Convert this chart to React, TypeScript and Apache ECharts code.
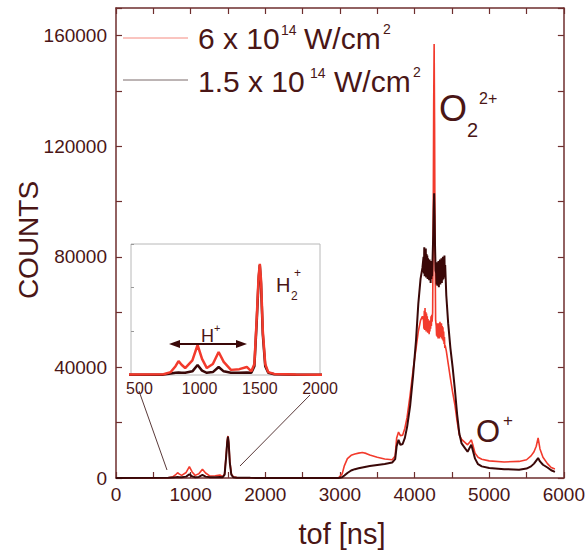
import React, { useEffect, useRef } from 'react';
import * as echarts from 'echarts';

// time of flight (ns)
const tof = [
  0, 700, 760, 800, 825, 850, 880, 940, 983, 1020, 1060, 1110, 1158, 1200, 1260, 1330, 1392, 1430, 1455, 1475,
  1490, 1500, 1510, 1525, 1545, 1570, 1620, 1800, 2000, 2500, 2980,
  3030, 3060, 3100, 3150, 3200, 3250, 3300, 3350, 3400, 3500, 3600, 3700, 3740, 3760, 3785, 3810, 3840, 3870,
  3900, 3940, 3980, 4020, 4050, 4080, 4105,
  4120, 4125, 4130, 4135, 4140, 4145, 4150, 4155, 4160, 4165, 4170, 4175, 4180, 4185, 4190, 4195, 4200, 4205,
  4210, 4215, 4220, 4225, 4230, 4235,
  4242, 4250, 4256, 4262, 4268, 4274, 4282,
  4290, 4295, 4300, 4305, 4310, 4315, 4320, 4325, 4330, 4335, 4340, 4345, 4350, 4355, 4360, 4365, 4370, 4375,
  4380, 4385, 4390, 4395, 4400, 4405, 4410,
  4425, 4450, 4480, 4510, 4540, 4570, 4600, 4630, 4670, 4710, 4740, 4760, 4780, 4810, 4850, 4900, 5000, 5200,
  5400, 5500, 5560, 5600, 5630, 5655, 5680, 5720, 5780, 5830, 5880,
];

// 6 x 10^14 W/cm^2
const redCounts = [
  0, 100, 400, 1200, 1900, 1400, 950, 2000, 4100, 2200, 950, 1500, 3150, 1800, 700, 800, 1100, 500, 1500, 8000,
  13500, 15200, 13000, 6000, 1500, 400, 150, 80, 50, 0, 0,
  1500, 4500, 7000, 8200, 8700, 9000, 9200, 8900, 8300, 7500, 6900, 6600, 8000, 14500, 16600, 15300, 15500, 18000,
  22000, 30000, 39000, 47000, 53000, 57000, 58500,
  57000, 54000, 60500, 53500, 61500, 54500, 60000, 53000, 59500, 54000, 58500, 52500, 57500, 53500, 57000, 52000,
  56500, 53000, 57000, 54000, 58500, 55000, 59000, 56500,
  60000, 95000, 135000, 157000, 128000, 85000, 57000,
  55000, 51500, 56000, 51000, 55500, 50500, 56000, 51000, 55000, 50500, 56500, 51500, 55500, 51000, 56000, 50500,
  55000, 50000, 54500, 49500, 53000, 48500, 51000, 47000, 48000,
  46000, 41500, 36000, 31000, 26500, 20500, 15500, 14000, 13000, 12000, 13000, 13800, 12000, 9000, 7500, 6800,
  6200, 5800, 6000, 6600, 8000, 9500, 11500, 14500, 10500, 7500, 5200, 3800, 3300,
];

// 1.5 x 10^14 W/cm^2
const blackCounts = [
  0, 50, 200, 300, 350, 300, 300, 500, 1370, 600, 300, 400, 1100, 500, 300, 300, 350, 300, 1200, 7500,
  13000, 15000, 12500, 5500, 1200, 300, 100, 50, 30, 0, 0,
  300, 900, 1800, 2700, 3200, 3500, 3800, 4100, 4300, 4700, 5100, 5600, 6800, 11500, 13800, 12000, 12300, 14500,
  18500, 26000, 37000, 50000, 63000, 72000, 76000,
  80000, 74000, 83500, 73000, 82000, 75000, 83000, 72500, 81000, 74000, 80500, 72000, 79500, 73500, 78000, 71500,
  79000, 72000, 77000, 70500, 78500, 72000, 76500, 73000,
  80000, 88000, 97000, 103000, 95000, 84000, 75000,
  74000, 70000, 78000, 69500, 77000, 70000, 78500, 69000, 77500, 70500, 79000, 70000, 78000, 71000, 79500, 70500,
  78500, 71500, 80000, 72000, 79000, 73000, 80500, 72500, 77000,
  66000, 56000, 47000, 40000, 32000, 23000, 16000, 12500, 11000, 9500, 11000, 12000, 10000, 7000, 5000, 4200,
  3600, 3200, 3000, 3400, 4200, 5200, 6300, 7200, 6000, 4800, 3800, 2800, 2200,
];

const insetTickLabels = [500, 1000, 1500, 2000];

const RED = '#f23a2c';
const DARK = '#3a0808';
const AXIS = '#6e2e2e';
const TEXT = '#4a1616';
const FONT = '"Liberation Sans", Arial, Helvetica, sans-serif';

function txt(x: number, y: number, text: string, fontSize: number, extra: any = {}) {
  return {
    type: 'text',
    x,
    y,
    z: 100,
    ...extra,
    style: { text, fill: TEXT, fontSize, fontFamily: FONT, align: 'left', verticalAlign: 'middle', ...(extra.style || {}) },
  };
}

export default function App() {
  const ref = useRef<HTMLDivElement>(null);
  useEffect(() => {
    const chart = echarts.init(ref.current!, null, { renderer: 'svg' });
    const red = tof.map((t, i) => [t, redCounts[i]]);
    const black = tof.map((t, i) => [t, blackCounts[i]]);
    const axisLine = { show: true, onZero: false, lineStyle: { color: AXIS, width: 1.5 } };
    const tick = { show: true, inside: true, length: 6, lineStyle: { color: AXIS, width: 1.2 } };
    chart.setOption({
      animation: false,
      grid: [
        { left: 116, top: 8, width: 450, height: 470 },
        {
          left: 131, top: 244, width: 189, height: 131, show: true, backgroundColor: '#fff',
          borderColor: '#b8b8b8', borderWidth: 1, z: 5,
        },
      ],
      xAxis: [
        {
          type: 'value', gridIndex: 0, min: 0, max: 6000, interval: 500, axisLine, axisTick: tick,
          axisLabel: {
            formatter: (v: number) => (v % 1000 === 0 ? String(v) : ''),
            fontSize: 19, color: TEXT, fontFamily: FONT, margin: 7,
          },
          splitLine: { show: false },
        },
        {
          type: 'value', gridIndex: 0, position: 'top', min: 0, max: 6000, interval: 500, axisLine, axisTick: tick,
          axisLabel: { show: false }, splitLine: { show: false },
        },
        {
          type: 'value', gridIndex: 1, min: 430, max: 2000, z: 6,
          axisLine: { show: false }, axisTick: { show: false },
          axisLabel: {
            customValues: insetTickLabels, formatter: (v: number) => String(v),
            fontSize: 16, color: TEXT, fontFamily: FONT, margin: 5,
          },
          splitLine: { show: false },
        },
      ],
      yAxis: [
        {
          type: 'value', gridIndex: 0, min: 0, max: 170000, interval: 20000, axisLine, axisTick: tick,
          axisLabel: {
            formatter: (v: number) => (v % 40000 === 0 ? String(v) : ''),
            fontSize: 19, color: TEXT, fontFamily: FONT, margin: 9,
          },
          splitLine: { show: false },
        },
        {
          type: 'value', gridIndex: 0, position: 'right', min: 0, max: 170000, interval: 20000, axisLine,
          axisTick: tick, axisLabel: { show: false }, splitLine: { show: false },
        },
        {
          type: 'value', gridIndex: 1, min: 0, max: 17900, interval: 6000, z: 6,
          axisLine: { show: false },
          axisTick: { show: true, inside: true, length: 3, lineStyle: { color: '#999' } },
          axisLabel: { show: false }, splitLine: { show: false },
        },
      ],
      series: [
        {
          type: 'line', xAxisIndex: 0, yAxisIndex: 0, data: red, symbol: 'none', showSymbol: false,
          lineStyle: { color: RED, width: 1.6 }, z: 3,
        },
        {
          type: 'line', xAxisIndex: 0, yAxisIndex: 0, data: black, symbol: 'none', showSymbol: false,
          lineStyle: { color: DARK, width: 2 }, z: 4,
        },
        {
          type: 'line', xAxisIndex: 2, yAxisIndex: 2, data: black, symbol: 'none', showSymbol: false,
          lineStyle: { color: DARK, width: 2.5 }, z: 7,
        },
        {
          type: 'line', xAxisIndex: 2, yAxisIndex: 2, data: red, symbol: 'none', showSymbol: false,
          lineStyle: { color: RED, width: 2.5 }, z: 8,
        },
      ],
      graphic: [
        // legend
        { type: 'line', z: 100, shape: { x1: 123, y1: 38, x2: 188, y2: 38 }, style: { stroke: '#f58a80', lineWidth: 1 } },
        { type: 'line', z: 100, shape: { x1: 123, y1: 80, x2: 188, y2: 80 }, style: { stroke: '#7a6a6a', lineWidth: 1 } },
        txt(198, 38, '6 x 10', 30),
        txt(281, 30, '14', 14),
        txt(304, 38, 'W/cm', 30),
        txt(383, 29, '2', 14),
        txt(198, 81, '1.5 x 10', 30),
        txt(310, 73, '14', 14),
        txt(334, 81, 'W/cm', 30),
        txt(413, 72, '2', 14),
        // axis names
        txt(28, 240, 'COUNTS', 28, { rotation: Math.PI / 2, style: { align: 'center' } }),
        txt(342, 534, 'tof [ns]', 29, { style: { align: 'center' } }),
        // peak annotations
        txt(439, 108, 'O', 36),
        txt(467, 130, '2', 20),
        txt(479, 98, '2+', 16),
        txt(476, 431, 'O', 31),
        txt(503, 420, '+', 17),
        // inset annotations
        { type: 'line', z: 100, shape: { x1: 176, y1: 344, x2: 240, y2: 344 }, style: { stroke: DARK, lineWidth: 2 } },
        { type: 'polygon', z: 100, shape: { points: [[169, 344], [180, 340], [180, 348]] }, style: { fill: DARK } },
        { type: 'polygon', z: 100, shape: { points: [[247, 344], [236, 340], [236, 348]] }, style: { fill: DARK } },
        txt(201, 336, 'H', 18),
        txt(214, 328, '+', 11),
        txt(276, 285, 'H', 20),
        txt(291, 296, '2', 12),
        txt(294, 273, '+', 12),
        // connector lines
        { type: 'line', z: 100, shape: { x1: 139, y1: 391, x2: 167, y2: 470 }, style: { stroke: '#5a3a3a', lineWidth: 1 } },
        { type: 'line', z: 100, shape: { x1: 310, y1: 395, x2: 240, y2: 466 }, style: { stroke: '#5a3a3a', lineWidth: 1 } },
      ],
    });
    return () => chart.dispose();
  }, []);
  return <div ref={ref} style={{ position: 'fixed', left: 0, top: 0, width: 588, height: 557, background: '#fff' }} />;
}
